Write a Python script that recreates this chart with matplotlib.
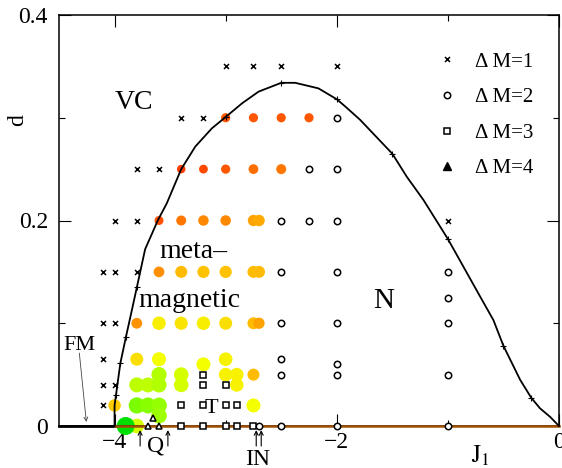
import numpy as np
import matplotlib.pyplot as plt
from matplotlib.colors import LinearSegmentedColormap
from matplotlib.lines import Line2D

plt.rcParams['font.family'] = ['Liberation Serif', 'DejaVu Serif']
plt.rcParams['mathtext.fontset'] = 'stix'

# phase boundary
curve_J = [-4.0, -4.0, -3.987, -3.948, -3.897, -3.858, -3.798, -3.725, -3.609, -3.53,
           -3.40, -3.273, -3.124, -2.997, -2.853, -2.704, -2.50, -2.374, -2.165, -2.0,
           -1.924, -1.79, -1.5, -1.37, -1.22, -1.0, -0.86, -0.71, -0.59, -0.5, -0.35,
           -0.25, -0.171, -0.081, 0.0]
curve_d = [0.0, 0.02, 0.0302, 0.061, 0.087, 0.106, 0.1356, 0.172, 0.2005, 0.2167,
           0.25, 0.272, 0.2897, 0.301, 0.314, 0.3254, 0.334, 0.334, 0.3286, 0.318,
           0.311, 0.298, 0.265, 0.2426, 0.22, 0.182, 0.155, 0.126, 0.103, 0.078, 0.045,
           0.0275, 0.0172, 0.009, 0.0]
# computed points marked on the boundary
mark_J = [-3.987, -3.948, -3.897, -3.798, -2.997, -2.5, -2.0, -1.5, -1.0, -0.5, -0.25]
mark_d = [0.0302, 0.061, 0.087, 0.1356, 0.301, 0.334, 0.318, 0.265, 0.182, 0.078, 0.0275]

# FM line and d=0 line
fm_J = [-4.5, -4.0]
fm_d = [0.0, 0.0]
base_J = [-4.0, 0.0]
base_d = [0.0, 0.0]

# Delta M = 1
dm1_J = [-3.0, -2.75, -2.5, -2.0, -3.4, -3.2, -3.8, -3.6, -4.0, -3.8, -1.0,
         -4.1, -4.0, -3.8, -4.1, -4.0, -4.1, -4.1, -4.0, -4.1]
dm1_d = [0.35, 0.35, 0.35, 0.35, 0.30, 0.30, 0.25, 0.25, 0.20, 0.20, 0.20,
         0.15, 0.15, 0.15, 0.10, 0.10, 0.065, 0.04, 0.04, 0.02]
# Delta M = 2
dm2_J = [-2.0, -2.25, -2.0, -2.5, -2.25, -2.0, -2.5, -2.0, -1.0, -1.0,
         -2.5, -2.0, -1.0, -2.5, -2.0, -2.5, -2.0, -1.0, -2.7, -2.5, -2.0, -1.0]
dm2_d = [0.30, 0.25, 0.25, 0.20, 0.20, 0.20, 0.15, 0.15, 0.15, 0.125,
         0.10, 0.10, 0.10, 0.065, 0.06, 0.05, 0.05, 0.05, 0.0, 0.0, 0.0, 0.0]
# Delta M = 3
dm3_J = [-3.2, -3.2, -3.0, -3.4, -3.2, -3.0, -2.9, -3.4, -3.2, -3.0, -2.9, -2.75]
dm3_d = [0.05, 0.04, 0.04, 0.02, 0.02, 0.02, 0.02, 0.0, 0.0, 0.0, 0.0, 0.0]
# Delta M = 4
dm4_J = [-3.7, -3.65, -3.6]
dm4_d = [0.0, 0.0075, 0.0]

# metamagnetic points: J1, d, colour value (0 red ... 1 green)
dot_J = [-3.0, -2.75, -2.5, -2.25,
         -3.4, -3.2, -3.0, -2.75, -2.5,
         -3.6, -3.4, -3.2, -3.0, -2.75, -2.7,
         -3.6, -3.4, -3.2, -3.0, -2.75, -2.7,
         -3.8, -3.6, -3.4, -3.2, -3.0, -2.75, -2.7,
         -3.8, -3.6, -3.0, -3.2,
         -3.6, -3.4, -3.0, -2.9, -2.75,
         -3.8, -3.7, -3.6, -3.4, -2.9,
         -4.0, -3.8, -3.7, -3.6, -2.75,
         -3.6, -3.8, -3.9]
dot_d = [0.30, 0.30, 0.30, 0.30,
         0.25, 0.25, 0.25, 0.25, 0.25,
         0.20, 0.20, 0.20, 0.20, 0.20, 0.20,
         0.15, 0.15, 0.15, 0.15, 0.15, 0.15,
         0.10, 0.10, 0.10, 0.10, 0.10, 0.10, 0.10,
         0.065, 0.065, 0.065, 0.06,
         0.05, 0.05, 0.05, 0.05, 0.05,
         0.04, 0.04, 0.04, 0.04, 0.04,
         0.02, 0.02, 0.02, 0.02, 0.02,
         0.01, 0.0, 0.0]
dot_v = [0.12, 0.12, 0.12, 0.12,
         0.05, 0.08, 0.12, 0.18, 0.2,
         0.1, 0.2, 0.25, 0.25, 0.33, 0.35,
         0.27, 0.4, 0.42, 0.42, 0.4, 0.4,
         0.28, 0.55, 0.52, 0.55, 0.5, 0.4, 0.33,
         0.5, 0.6, 0.56, 0.6,
         0.72, 0.66, 0.56, 0.56, 0.4,
         0.7, 0.7, 0.72, 0.66, 0.56,
         0.45, 0.82, 0.8, 0.78, 0.6,
         0.76, 0.66, 1.0]

xticks = [-4, -2, 0]
xticklabels = ['−4', '−2', '0']
yticks = [0, 0.2, 0.4]
yticklabels = ['0', '0.2', '0.4']
legend_labels = ['Δ M=1', 'Δ M=2', 'Δ M=3', 'Δ M=4']

cmap = LinearSegmentedColormap.from_list(
    'rg', [(0.0, '#ff2a00'), (0.2, '#ff7700'), (0.4, '#ffbb00'),
           (0.6, '#f4ff00'), (0.8, '#88ff00'), (1.0, '#00e000')])

fig = plt.figure(figsize=(5.62, 4.68), dpi=100)
ax = fig.add_axes([59 / 562, 1 - 426 / 468, 500 / 562, 411 / 468])

v = np.array(dot_v)
diam = 8 + 10 * v  # px
ax.scatter(dot_J, dot_d, s=(0.72 * diam) ** 2, c=cmap(v), edgecolors='none',
           zorder=2, clip_on=False)

ax.plot(fm_J, fm_d, color='k', lw=2.0, zorder=3, clip_on=False)
ax.plot(base_J, base_d, color='#a05000', lw=1.8, zorder=3, clip_on=False)

ax.plot(dm1_J, dm1_d, ls='', marker='x', color='k', ms=3.6, mew=1.1, zorder=4, clip_on=False)
ax.plot(dm2_J, dm2_d, ls='', marker='o', mfc='white', mec='k', ms=4.6, mew=1.1, zorder=4, clip_on=False)
ax.plot(dm3_J, dm3_d, ls='', marker='s', mfc='white', mec='k', ms=4.0, mew=1.1, zorder=4, clip_on=False)
ax.plot(dm4_J, dm4_d, ls='', marker='^', mfc='white', mec='k', ms=5.0, mew=1.1, zorder=4, clip_on=False)

ax.plot(curve_J, curve_d, color='k', lw=1.3, zorder=5, clip_on=False,
        solid_joinstyle='round')
ax.plot(mark_J, mark_d, ls='', marker='+', color='k', ms=5, mew=0.8, zorder=5)

ax.set_xlim(-4.5, 0)
ax.set_ylim(0, 0.4)
ax.set_xticks(xticks)
ax.set_xticklabels(xticklabels)
ax.set_xticks([-3, -1], minor=True)
ax.set_yticks(yticks)
ax.set_yticklabels(yticklabels)
ax.set_yticks([0.1, 0.3], minor=True)
ax.tick_params(which='both', direction='in', top=True, right=True, width=0.8, labelsize=17)
ax.tick_params(which='major', length=8.6)
ax.tick_params(which='minor', length=4.3)
ax.tick_params(axis='x', pad=4)
ax.tick_params(axis='y', pad=8)
for s in ax.spines.values():
    s.set_linewidth(1.1)

# region labels
ax.text(-3.83, 0.3085, 'VC', fontsize=20, ha='center', va='baseline')
ax.text(-3.29, 0.1635, 'meta–', fontsize=20, ha='center', va='baseline')
ax.text(-3.323, 0.116, 'magnetic', fontsize=20, ha='center', va='baseline')
ax.text(-1.574, 0.115, 'N', fontsize=21, ha='center', va='baseline')
ax.text(-3.13, 0.0127, 'T', fontsize=16, ha='center', va='baseline', zorder=6)
ax.text(-3.633, -0.0253, 'Q', fontsize=17, ha='center', va='baseline')
ax.text(-2.711, -0.0375, 'IN', fontsize=17, ha='center', va='baseline')
ax.text(-4.32, 0.074, 'FM', fontsize=16, ha='center', va='baseline')
ax.text(-0.71, -0.036, r'$\mathrm{J}_1$', fontsize=18, ha='center', va='baseline')
ax.text(-0.082, 0.745, 'd', fontsize=17, ha='center', va='center', rotation=90,
        transform=ax.transAxes)

for xa in [-3.77, -3.52, -2.725, -2.68]:
    ax.annotate('', xy=(xa, -0.004), xytext=(xa, -0.0195),
                arrowprops=dict(arrowstyle='->', lw=0.8, color='k',
                                shrinkA=0, shrinkB=0, mutation_scale=7),
                annotation_clip=False)
ax.annotate('', xy=(-4.254, 0.004), xytext=(-4.317, 0.071),
            arrowprops=dict(arrowstyle='->', lw=0.6, color='#444444',
                            shrinkA=0, shrinkB=0, mutation_scale=7),
            annotation_clip=False)

handles = [
    Line2D([], [], ls='', marker='x', color='k', ms=3.6, mew=1.1),
    Line2D([], [], ls='', marker='o', mfc='white', mec='k', ms=4.6, mew=1.1),
    Line2D([], [], ls='', marker='s', mfc='white', mec='k', ms=4.0, mew=1.1),
    Line2D([], [], ls='', marker='^', color='k', ms=5.5),
]
ax.legend(handles, legend_labels, loc='upper left', bbox_to_anchor=(0.755, 0.91),
          frameon=False, fontsize=15, handlelength=1.0, handletextpad=0.85,
          labelspacing=0.77, borderpad=0, borderaxespad=0)

fig.savefig('out.png', dpi=100)
